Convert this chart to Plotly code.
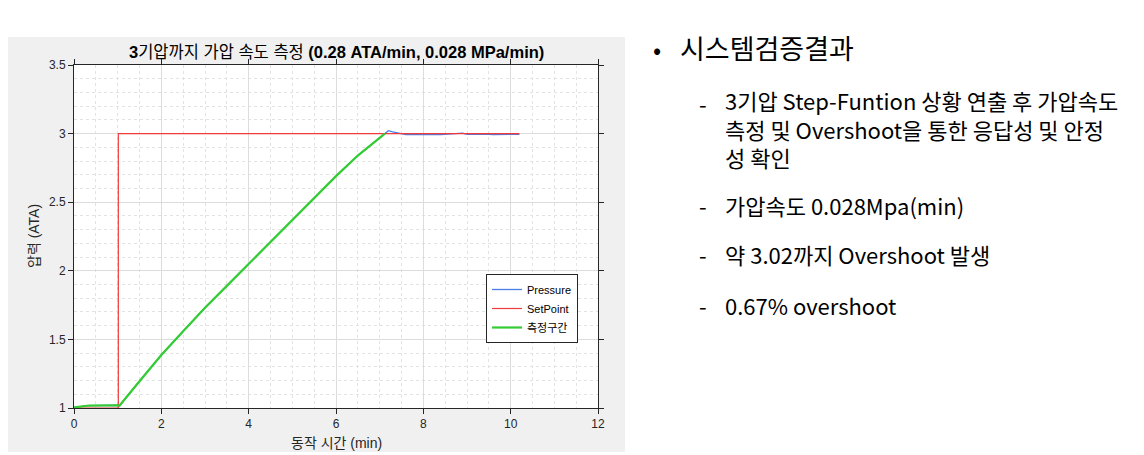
import plotly.graph_objects as go

# ---------------- data ----------------
time_min = [0, 0.3, 0.35, 1.0, 1.04, 1.5, 2.0, 2.5, 3.0, 3.5, 4.0, 4.5, 5.0, 5.5,
            6.0, 6.5, 7.0, 7.12,
            7.2, 7.3, 7.4, 7.5, 7.6, 7.7, 7.8, 7.9, 8.0, 8.1, 8.2, 8.3, 8.4, 8.5,
            8.6, 8.7, 8.8, 8.9, 9.0, 9.1, 9.2, 9.3, 9.4, 9.5, 9.6, 9.7, 9.8, 9.9,
            10.0, 10.1, 10.2]
pressure = [1.005, 1.013, 1.018, 1.02, 1.017, 1.195, 1.386, 1.56, 1.73, 1.89, 2.05,
            2.21, 2.375, 2.53, 2.69, 2.84, 2.97, 3.0,
            3.021, 3.013, 3.006, 2.999, 2.993, 2.992, 2.993, 2.992, 2.994, 2.993,
            2.992, 2.994, 2.993, 2.995, 2.993, 2.994, 2.996, 3.003, 2.994, 2.995,
            2.993, 2.997, 2.994, 2.995, 2.993, 2.994, 2.996, 2.994, 2.995, 2.994, 2.995]
measure_end_index = 18  # 측정구간: start to t = 7.12 min

setpoint_time = [0, 1.015, 1.015, 10.2]
setpoint_value = [1, 1, 3, 3]

x_ticks = [0, 2, 4, 6, 8, 10, 12]
y_ticks = [1, 1.5, 2, 2.5, 3, 3.5]

title_text = "<b>3</b>기압까지 가압 속도 측정 <b>(0.28 ATA/min, 0.028 MPa/min)</b>"
xlabel = "동작 시간 (min)"
ylabel = "압력 (ATA)"

heading = "시스템검증결과"
sub_items = [
    ("3기압 Step-Funtion 상황 연출 후 가압속도<br>측정 및 Overshoot을 통한 응답성 및 안정<br>성 확인",
     128, 103),
    ("가압속도 0.028Mpa(min)", 205, 205),
    ("약 3.02까지 Overshoot 발생", 254, 254),
    ("0.67% overshoot", 305, 305),
]

# ---------------- layout geometry (screen pixels) ----------------
OFF = 8                          # page body margin
W, H = 1144 - OFF, 455 - OFF     # figure size
L, R, T, B = 74, 598, 65, 408    # plot area in screen pixels


def px(x):
    return (x - L) / (R - L)


def py(y):
    return (B - y) / (B - T)


FONT = "Liberation Sans, Arial, Noto Sans CJK KR, sans-serif"
KFONT = "Noto Sans CJK KR, Malgun Gothic, sans-serif"
AXC = "#262626"

fig = go.Figure()
fig.add_trace(go.Scatter(x=time_min, y=pressure, mode="lines", name="Pressure",
                         line=dict(color="#4a7fe6", width=1.3)))
fig.add_trace(go.Scatter(x=setpoint_time, y=setpoint_value, mode="lines", name="SetPoint",
                         line=dict(color="#ee3a3a", width=1.2)))
fig.add_trace(go.Scatter(x=time_min[:measure_end_index], y=pressure[:measure_end_index],
                         mode="lines", name="측정구간",
                         line=dict(color="#33cc33", width=2.2)))

shapes = [
    dict(type="rect", xref="paper", yref="paper", x0=px(8), x1=px(625), y0=py(452), y1=py(37),
         fillcolor="#f0f0f0", line=dict(width=0), layer="below"),
    dict(type="rect", xref="paper", yref="paper", x0=0, x1=1, y0=0, y1=1,
         fillcolor="white", line=dict(width=0), layer="below"),
]

annotations = [
    dict(text=title_text, xref="paper", yref="paper", x=px(336), y=py(52),
         xanchor="center", yanchor="middle", showarrow=False,
         font=dict(family=FONT, size=16.5, color="black")),
    dict(text=xlabel, xref="paper", yref="paper", x=px(336), y=py(443),
         xanchor="center", yanchor="middle", showarrow=False,
         font=dict(family=FONT, size=14, color=AXC)),
    dict(text=ylabel, xref="paper", yref="paper", x=px(34), y=py(236),
         xanchor="center", yanchor="middle", showarrow=False, textangle=-90,
         font=dict(family=FONT, size=14, color=AXC)),
    dict(text="•", xref="paper", yref="paper", x=px(651), y=py(48),
         xanchor="left", yanchor="middle", showarrow=False,
         font=dict(family=KFONT, size=24, color="black")),
    dict(text=heading, xref="paper", yref="paper", x=px(678), y=py(47),
         xanchor="left", yanchor="middle", showarrow=False,
         font=dict(family=KFONT, size=27, color="black")),
]
for text, ycenter, ydash in sub_items:
    annotations.append(dict(text=text, xref="paper", yref="paper", x=px(723), y=py(ycenter),
                            xanchor="left", yanchor="middle", align="left", showarrow=False,
                            font=dict(family=KFONT, size=22, color="black")))
    annotations.append(dict(text="-", xref="paper", yref="paper", x=px(697), y=py(ydash),
                            xanchor="left", yanchor="middle", showarrow=False,
                            font=dict(family=KFONT, size=22, color="black")))

axis_common = dict(showline=True, linecolor=AXC, linewidth=1, mirror="ticks",
                   ticks="outside", ticklen=5, tickcolor=AXC, tickwidth=1,
                   showgrid=True, gridcolor="#dcdcdc", gridwidth=1, zeroline=False,
                   tickfont=dict(family=FONT, size=12, color=AXC))

fig.update_layout(
    width=W, height=H,
    margin=dict(l=L - OFF, r=W - (R - OFF), t=T - OFF, b=H - (B - OFF), pad=0),
    paper_bgcolor="white", plot_bgcolor="white",
    showlegend=True,
    legend=dict(x=px(578), y=py(274), xanchor="right", yanchor="top",
                bgcolor="white", bordercolor="#262626", borderwidth=1,
                font=dict(family=FONT, size=11, color="black"),
                tracegroupgap=0, itemwidth=30),
    xaxis=dict(range=[0, 12], tickvals=x_ticks,
               minor=dict(dtick=0.5, showgrid=True, gridcolor="#e3e3e3", griddash="dot",
                          ticks=""),
               **axis_common),
    yaxis=dict(range=[1, 3.5], tickvals=y_ticks,
               minor=dict(dtick=0.1, showgrid=True, gridcolor="#e3e3e3", griddash="dot",
                          ticks=""),
               **axis_common),
    shapes=shapes,
    annotations=annotations,
)

fig.write_html("out.html")
